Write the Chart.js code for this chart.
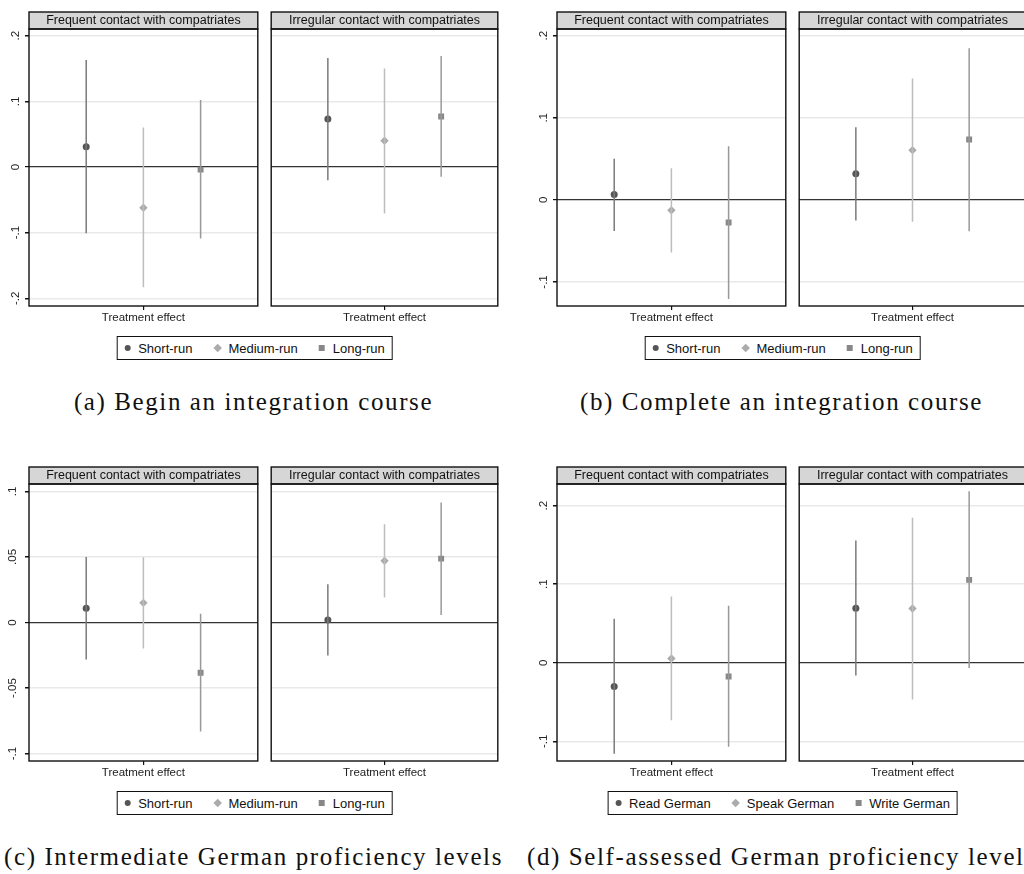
<!DOCTYPE html>
<html>
<head>
<meta charset="utf-8">
<script src="https://cdn.jsdelivr.net/npm/chart.js@4.4.1/dist/chart.umd.min.js"></script>
<style>
  html, body { margin: 0; padding: 0; background: #fff; overflow: hidden; }
  body { width: 1024px; height: 874px; position: relative; }
  .facet { position: absolute; }
  .legend {
    position: absolute; transform: translateX(-50%);
    border: 1px solid #111; height: 24px; box-sizing: border-box;
    display: flex; align-items: center; padding: 0 7px 0 7px;
    font: 13px "Liberation Sans", Arial, sans-serif; color: #111; white-space: nowrap;
  }
  .legend .item { display: flex; align-items: center; margin-right: 21px; }
  .legend .item:last-child { margin-right: 0; }
  .legend .mk { display: inline-block; margin-right: 8px; }
  .caption {
    position: absolute; transform: translateX(-50%); white-space: nowrap;
    font: 25px "Liberation Serif", "Times New Roman", serif; color: #111; letter-spacing: 1.6px;
  }
</style>
</head>
<body>
<script>
// facet titles and axis text
const facetNames = ['Frequent contact with compatriates', 'Irregular contact with compatriates'];
const xTickLabel = 'Treatment effect';
const runSeries = ['Short-run', 'Medium-run', 'Long-run'];
const skillSeries = ['Read German', 'Speak German', 'Write German'];

// (a) Begin an integration course
const aFreqEst = [0.031, -0.062, -0.004];
const aFreqLo = [-0.101, -0.183, -0.109];
const aFreqHi = [0.163, 0.060, 0.102];
const aIrrEst = [0.073, 0.040, 0.077];
const aIrrLo = [-0.020, -0.071, -0.015];
const aIrrHi = [0.166, 0.150, 0.169];
const aTicks = [-0.2, -0.1, 0, 0.1, 0.2];
const aTickLabels = ['-.2', '-.1', '0', '.1', '.2'];

// (b) Complete an integration course
const bFreqEst = [0.0065, -0.0126, -0.0276];
const bFreqLo = [-0.038, -0.064, -0.1207];
const bFreqHi = [0.050, 0.0386, 0.0654];
const bIrrEst = [0.0317, 0.0606, 0.0736];
const bIrrLo = [-0.0252, -0.0268, -0.0382];
const bIrrHi = [0.0886, 0.148, 0.1846];
const bTicks = [-0.1, 0, 0.1, 0.2];
const bTickLabels = ['-.1', '0', '.1', '.2'];

// (c) Intermediate German proficiency levels
const cFreqEst = [0.0109, 0.0150, -0.0383];
const cFreqLo = [-0.0282, -0.0198, -0.0832];
const cFreqHi = [0.050, 0.0497, 0.0066];
const cIrrEst = [0.0020, 0.0470, 0.0487];
const cIrrLo = [-0.0251, 0.0190, 0.0058];
const cIrrHi = [0.0292, 0.0749, 0.0914];
const cTicks = [-0.1, -0.05, 0, 0.05, 0.1];
const cTickLabels = ['-.1', '-.05', '0', '.05', '.1'];

// (d) Self-assessed German proficiency levels
const dFreqEst = [-0.0301, 0.0055, -0.0174];
const dFreqLo = [-0.1157, -0.0733, -0.1068];
const dFreqHi = [0.0559, 0.0843, 0.0725];
const dIrrEst = [0.0695, 0.0691, 0.1055];
const dIrrLo = [-0.0161, -0.0466, -0.0068];
const dIrrHi = [0.1555, 0.1847, 0.2182];
const dTicks = [-0.1, 0, 0.1, 0.2];
const dTickLabels = ['-.1', '0', '.1', '.2'];

const captions = [
  '(a) Begin an integration course',
  '(b) Complete an integration course',
  '(c) Intermediate German proficiency levels',
  '(d) Self-assessed German proficiency levels'
];

// marker look for the three series
const markerColors = ['#555555', '#ababab', '#888888'];
const ciColors = ['#7a7a7a', '#bdbdbd', '#999999'];
const markerStyles = ['circle', 'rectRot', 'rect'];
const markerRadius = [3.5, 4.2, 4.2];

const sansFont = '"Liberation Sans", Arial, sans-serif';

// draws the grey strip on top of the facet and the box round the plot
const facetFrame = {
  id: 'facetFrame',
  afterDraw(chart, args, opts) {
    const ctx = chart.ctx;
    const a = chart.chartArea;
    ctx.save();
    ctx.fillStyle = '#d6d6d6';
    ctx.fillRect(a.left, a.top - 17, a.right - a.left, 17);
    ctx.strokeStyle = '#111';
    ctx.lineWidth = 1.4;
    ctx.strokeRect(a.left, a.top - 17, a.right - a.left, 17);
    ctx.strokeRect(a.left, a.top, a.right - a.left, a.bottom - a.top);
    ctx.fillStyle = '#111';
    ctx.font = '12.5px ' + sansFont;
    ctx.textAlign = 'center';
    ctx.textBaseline = 'middle';
    ctx.fillText(opts.title, (a.left + a.right) / 2, a.top - 8);
    ctx.restore();
  }
};

// one facet = one chart
function makeFacet(plotLeft, plotTop, title, est, lo, hi, ticks, tickLabels, yMin, yMax, showAxis) {
  const plotW = 231, plotH = 277;
  const axW = showAxis ? 29 : 0;
  const div = document.createElement('div');
  div.className = 'facet';
  div.style.left = (plotLeft - axW - 2) + 'px';
  div.style.top = (plotTop - 19) + 'px';
  const canvas = document.createElement('canvas');
  canvas.width = plotW + axW + 4;
  canvas.height = plotH + 19 + 26;
  div.appendChild(canvas);
  document.body.appendChild(div);

  const datasets = [];
  for (let i = 0; i < est.length; i++) {
    datasets.push({
      data: [{x: i + 1, y: lo[i]}, {x: i + 1, y: hi[i]}],
      showLine: true,
      borderColor: ciColors[i],
      borderWidth: 1.5,
      pointRadius: 0
    });
  }
  for (let i = 0; i < est.length; i++) {
    datasets.push({
      data: [{x: i + 1, y: est[i]}],
      pointStyle: markerStyles[i],
      pointRadius: markerRadius[i],
      pointBackgroundColor: markerColors[i],
      pointBorderColor: markerColors[i],
      pointBorderWidth: 0
    });
  }

  new Chart(canvas, {
    type: 'scatter',
    data: { datasets },
    plugins: [facetFrame],
    options: {
      responsive: false,
      animation: false,
      layout: { padding: { top: 19, left: 2, right: 2, bottom: 0 } },
      plugins: { legend: { display: false }, tooltip: { enabled: false }, facetFrame: { title } },
      scales: {
        x: {
          type: 'linear', min: 0, max: 4,
          afterBuildTicks: s => { s.ticks = [{value: 2}]; },
          afterFit: s => { s.height = 26; },
          grid: { drawOnChartArea: false, drawTicks: true, tickLength: 4, tickColor: '#111', lineWidth: 1.2 },
          border: { display: false },
          ticks: { callback: () => xTickLabel, padding: 1, color: '#222', font: { family: sansFont, size: 11.5 }, maxRotation: 0 }
        },
        y: {
          min: yMin, max: yMax,
          afterBuildTicks: s => { s.ticks = ticks.map(v => ({value: v})); },
          afterFit: s => { s.width = axW; },
          grid: {
            color: c => (c.tick && c.tick.value === 0) ? '#333' : '#e9e9e9',
            lineWidth: c => (c.tick && c.tick.value === 0) ? 1.2 : 1.5,
            drawTicks: showAxis, tickLength: 4, tickColor: '#111'
          },
          border: { display: false },
          ticks: {
            display: showAxis,
            callback: (v, i) => tickLabels[i],
            minRotation: 90, maxRotation: 90, crossAlign: 'center', padding: 2,
            color: '#222', font: { family: sansFont, size: 11.5 }
          }
        }
      }
    }
  });
}

function makeLegend(cx, top, names) {
  const box = document.createElement('div');
  box.className = 'legend';
  box.style.left = cx + 'px';
  box.style.top = top + 'px';
  names.forEach((name, i) => {
    const item = document.createElement('span');
    item.className = 'item';
    const mk = document.createElement('span');
    mk.className = 'mk';
    mk.style.background = markerColors[i];
    if (i === 0) { mk.style.width = '6px'; mk.style.height = '6px'; mk.style.borderRadius = '50%'; }
    if (i === 1) { mk.style.width = '6px'; mk.style.height = '6px'; mk.style.transform = 'rotate(45deg)'; mk.style.marginLeft = '1px'; }
    if (i === 2) { mk.style.width = '6px'; mk.style.height = '6px'; }
    item.appendChild(mk);
    item.appendChild(document.createTextNode(name));
    box.appendChild(item);
  });
  document.body.appendChild(box);
}

function makeCaption(cx, top, text) {
  const d = document.createElement('div');
  d.className = 'caption';
  d.style.left = cx + 'px';
  d.style.top = top + 'px';
  d.textContent = text;
  document.body.appendChild(d);
}

const panels = [
  { dx: 0,   dy: 0,   fe: aFreqEst, fl: aFreqLo, fh: aFreqHi, ie: aIrrEst, il: aIrrLo, ih: aIrrHi, t: aTicks, tl: aTickLabels, min: -0.2117, max: 0.2102, names: runSeries },
  { dx: 528, dy: 0,   fe: bFreqEst, fl: bFreqLo, fh: bFreqHi, ie: bIrrEst, il: bIrrLo, ih: bIrrHi, t: bTicks, tl: bTickLabels, min: -0.1293, max: 0.2082, names: runSeries },
  { dx: 0,   dy: 455, fe: cFreqEst, fl: cFreqLo, fh: cFreqHi, ie: cIrrEst, il: cIrrLo, ih: cIrrHi, t: cTicks, tl: cTickLabels, min: -0.1056, max: 0.1056, names: runSeries },
  { dx: 528, dy: 455, fe: dFreqEst, fl: dFreqLo, fh: dFreqHi, ie: dIrrEst, il: dIrrLo, ih: dIrrHi, t: dTicks, tl: dTickLabels, min: -0.125, max: 0.2275, names: skillSeries }
];

panels.forEach((p, k) => {
  makeFacet(29 + p.dx, 29 + p.dy, facetNames[0], p.fe, p.fl, p.fh, p.t, p.tl, p.min, p.max, true);
  makeFacet(269 + p.dx, 29 + p.dy, facetNames[1], p.ie, p.il, p.ih, p.t, p.tl, p.min, p.max, false);
  makeLegend(254.5 + p.dx, 336 + p.dy, p.names);
  makeCaption(253.5 + p.dx, 388 + p.dy, captions[k]);
});
</script>
</body>
</html>
